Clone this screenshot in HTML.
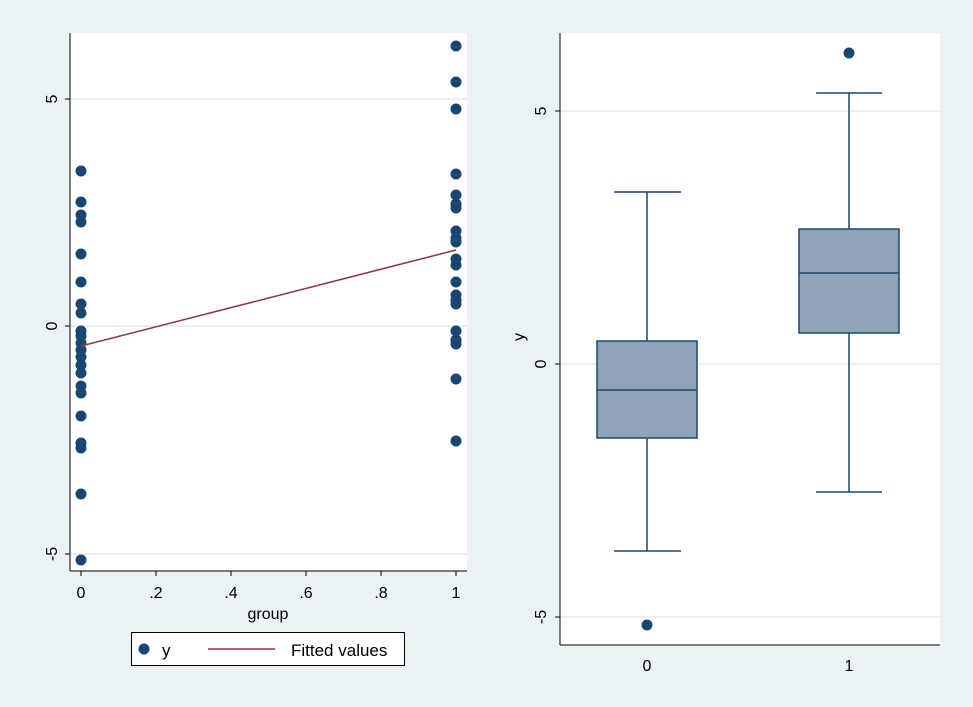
<!DOCTYPE html>
<html><head><style>body{margin:0;background:#eaf2f3}svg{display:block}text{font-family:"Liberation Sans",sans-serif;fill:#000}</style></head><body>
<svg width="973" height="707" viewBox="0 0 973 707">
<rect width="973" height="707" fill="#eaf2f3"/>
<rect x="70" y="33" width="397" height="538" fill="#fff"/>
<g stroke="#e4ecee" stroke-width="1.5"><line x1="70" x2="467" y1="99" y2="99"/><line x1="70" x2="467" y1="326" y2="326"/><line x1="70" x2="467" y1="554" y2="554"/></g>
<g stroke="#000" stroke-width="1"><line x1="70" y1="33" x2="70" y2="571"/><line x1="70" y1="571" x2="467" y2="571"/>
<line x1="65" x2="70" y1="99" y2="99"/><line x1="65" x2="70" y1="326" y2="326"/><line x1="65" x2="70" y1="554" y2="554"/>
<line x1="81" x2="81" y1="571" y2="576"/><line x1="156" x2="156" y1="571" y2="576"/><line x1="231" x2="231" y1="571" y2="576"/><line x1="306" x2="306" y1="571" y2="576"/><line x1="381" x2="381" y1="571" y2="576"/><line x1="456" x2="456" y1="571" y2="576"/></g>
<g font-size="16" text-anchor="middle">
<text transform="translate(52,99) rotate(-90)" dy="5">5</text>
<text transform="translate(52,326) rotate(-90)" dy="5">0</text>
<text transform="translate(52,554) rotate(-90)" dy="5">-5</text>
<text x="81" y="598">0</text><text x="156" y="598">.2</text><text x="231" y="598">.4</text><text x="306" y="598">.6</text><text x="381" y="598">.8</text><text x="456" y="598">1</text>
<text x="268" y="619">group</text></g>
<g fill="#1a476f">
<circle cx="81" cy="171" r="5.5"/><circle cx="81" cy="202" r="5.5"/><circle cx="81" cy="215" r="5.5"/><circle cx="81" cy="222" r="5.5"/><circle cx="81" cy="254" r="5.5"/><circle cx="81" cy="282" r="5.5"/><circle cx="81" cy="304" r="5.5"/><circle cx="81" cy="313" r="5.5"/><circle cx="81" cy="331" r="5.5"/><circle cx="81" cy="336" r="5.5"/><circle cx="81" cy="343" r="5.5"/><circle cx="81" cy="350" r="5.5"/><circle cx="81" cy="357" r="5.5"/><circle cx="81" cy="365" r="5.5"/><circle cx="81" cy="373" r="5.5"/><circle cx="81" cy="386" r="5.5"/><circle cx="81" cy="393" r="5.5"/><circle cx="81" cy="416" r="5.5"/><circle cx="81" cy="443" r="5.5"/><circle cx="81" cy="448" r="5.5"/><circle cx="81" cy="494" r="5.5"/><circle cx="81" cy="560" r="5.5"/>
<circle cx="456" cy="46" r="5.5"/><circle cx="456" cy="82" r="5.5"/><circle cx="456" cy="109" r="5.5"/><circle cx="456" cy="174" r="5.5"/><circle cx="456" cy="195" r="5.5"/><circle cx="456" cy="204" r="5.5"/><circle cx="456" cy="208" r="5.5"/><circle cx="456" cy="231" r="5.5"/><circle cx="456" cy="238" r="5.5"/><circle cx="456" cy="242" r="5.5"/><circle cx="456" cy="259" r="5.5"/><circle cx="456" cy="265" r="5.5"/><circle cx="456" cy="282" r="5.5"/><circle cx="456" cy="295" r="5.5"/><circle cx="456" cy="300" r="5.5"/><circle cx="456" cy="304" r="5.5"/><circle cx="456" cy="331" r="5.5"/><circle cx="456" cy="340" r="5.5"/><circle cx="456" cy="344" r="5.5"/><circle cx="456" cy="379" r="5.5"/><circle cx="456" cy="441" r="5.5"/></g>
<line x1="81" y1="346" x2="456" y2="250" stroke="#90353b" stroke-width="1.5"/>
<rect x="131.5" y="632.5" width="273" height="33" fill="#fff" stroke="#000"/>
<circle cx="144" cy="649" r="5.5" fill="#1a476f"/>
<text x="162" y="656" font-size="17">y</text>
<line x1="208" x2="275" y1="649" y2="649" stroke="#90353b" stroke-width="1.5"/>
<text x="291" y="656" font-size="17">Fitted values</text>
<rect x="560" y="33" width="380" height="612" fill="#fff"/>
<g stroke="#e4ecee" stroke-width="1.5"><line x1="560" x2="940" y1="111" y2="111"/><line x1="560" x2="940" y1="364" y2="364"/><line x1="560" x2="940" y1="617" y2="617"/></g>
<g stroke="#000"><line x1="560" y1="33" x2="560" y2="645"/><line x1="560" y1="645" x2="940" y2="645"/>
<line x1="555" x2="560" y1="111" y2="111"/><line x1="555" x2="560" y1="364" y2="364"/><line x1="555" x2="560" y1="617" y2="617"/></g>
<g font-size="16" text-anchor="middle">
<text transform="translate(541,111) rotate(-90)" dy="5">5</text>
<text transform="translate(541,364) rotate(-90)" dy="5">0</text>
<text transform="translate(541,617) rotate(-90)" dy="5">-5</text>
<text transform="translate(519,337) rotate(-90)" dy="5">y</text>
<text x="647" y="671">0</text><text x="849" y="671">1</text></g>
<g stroke="#1a476f" stroke-width="1.5" fill="none">
<line x1="647" x2="647" y1="192" y2="341"/><line x1="647" x2="647" y1="438" y2="551"/><line x1="614" x2="681" y1="192" y2="192"/><line x1="614" x2="681" y1="551" y2="551"/>
<rect x="597" y="341" width="100" height="97" fill="#90a4b8"/><line x1="597" x2="697" y1="390" y2="390"/>
<line x1="849" x2="849" y1="93" y2="229"/><line x1="849" x2="849" y1="333" y2="492"/><line x1="816" x2="882" y1="93" y2="93"/><line x1="816" x2="882" y1="492" y2="492"/>
<rect x="799" y="229" width="100" height="104" fill="#90a4b8"/><line x1="799" x2="899" y1="273" y2="273"/></g>
<circle cx="647" cy="625" r="5.5" fill="#1a476f"/><circle cx="849" cy="53" r="5.5" fill="#1a476f"/>
</svg></body></html>
